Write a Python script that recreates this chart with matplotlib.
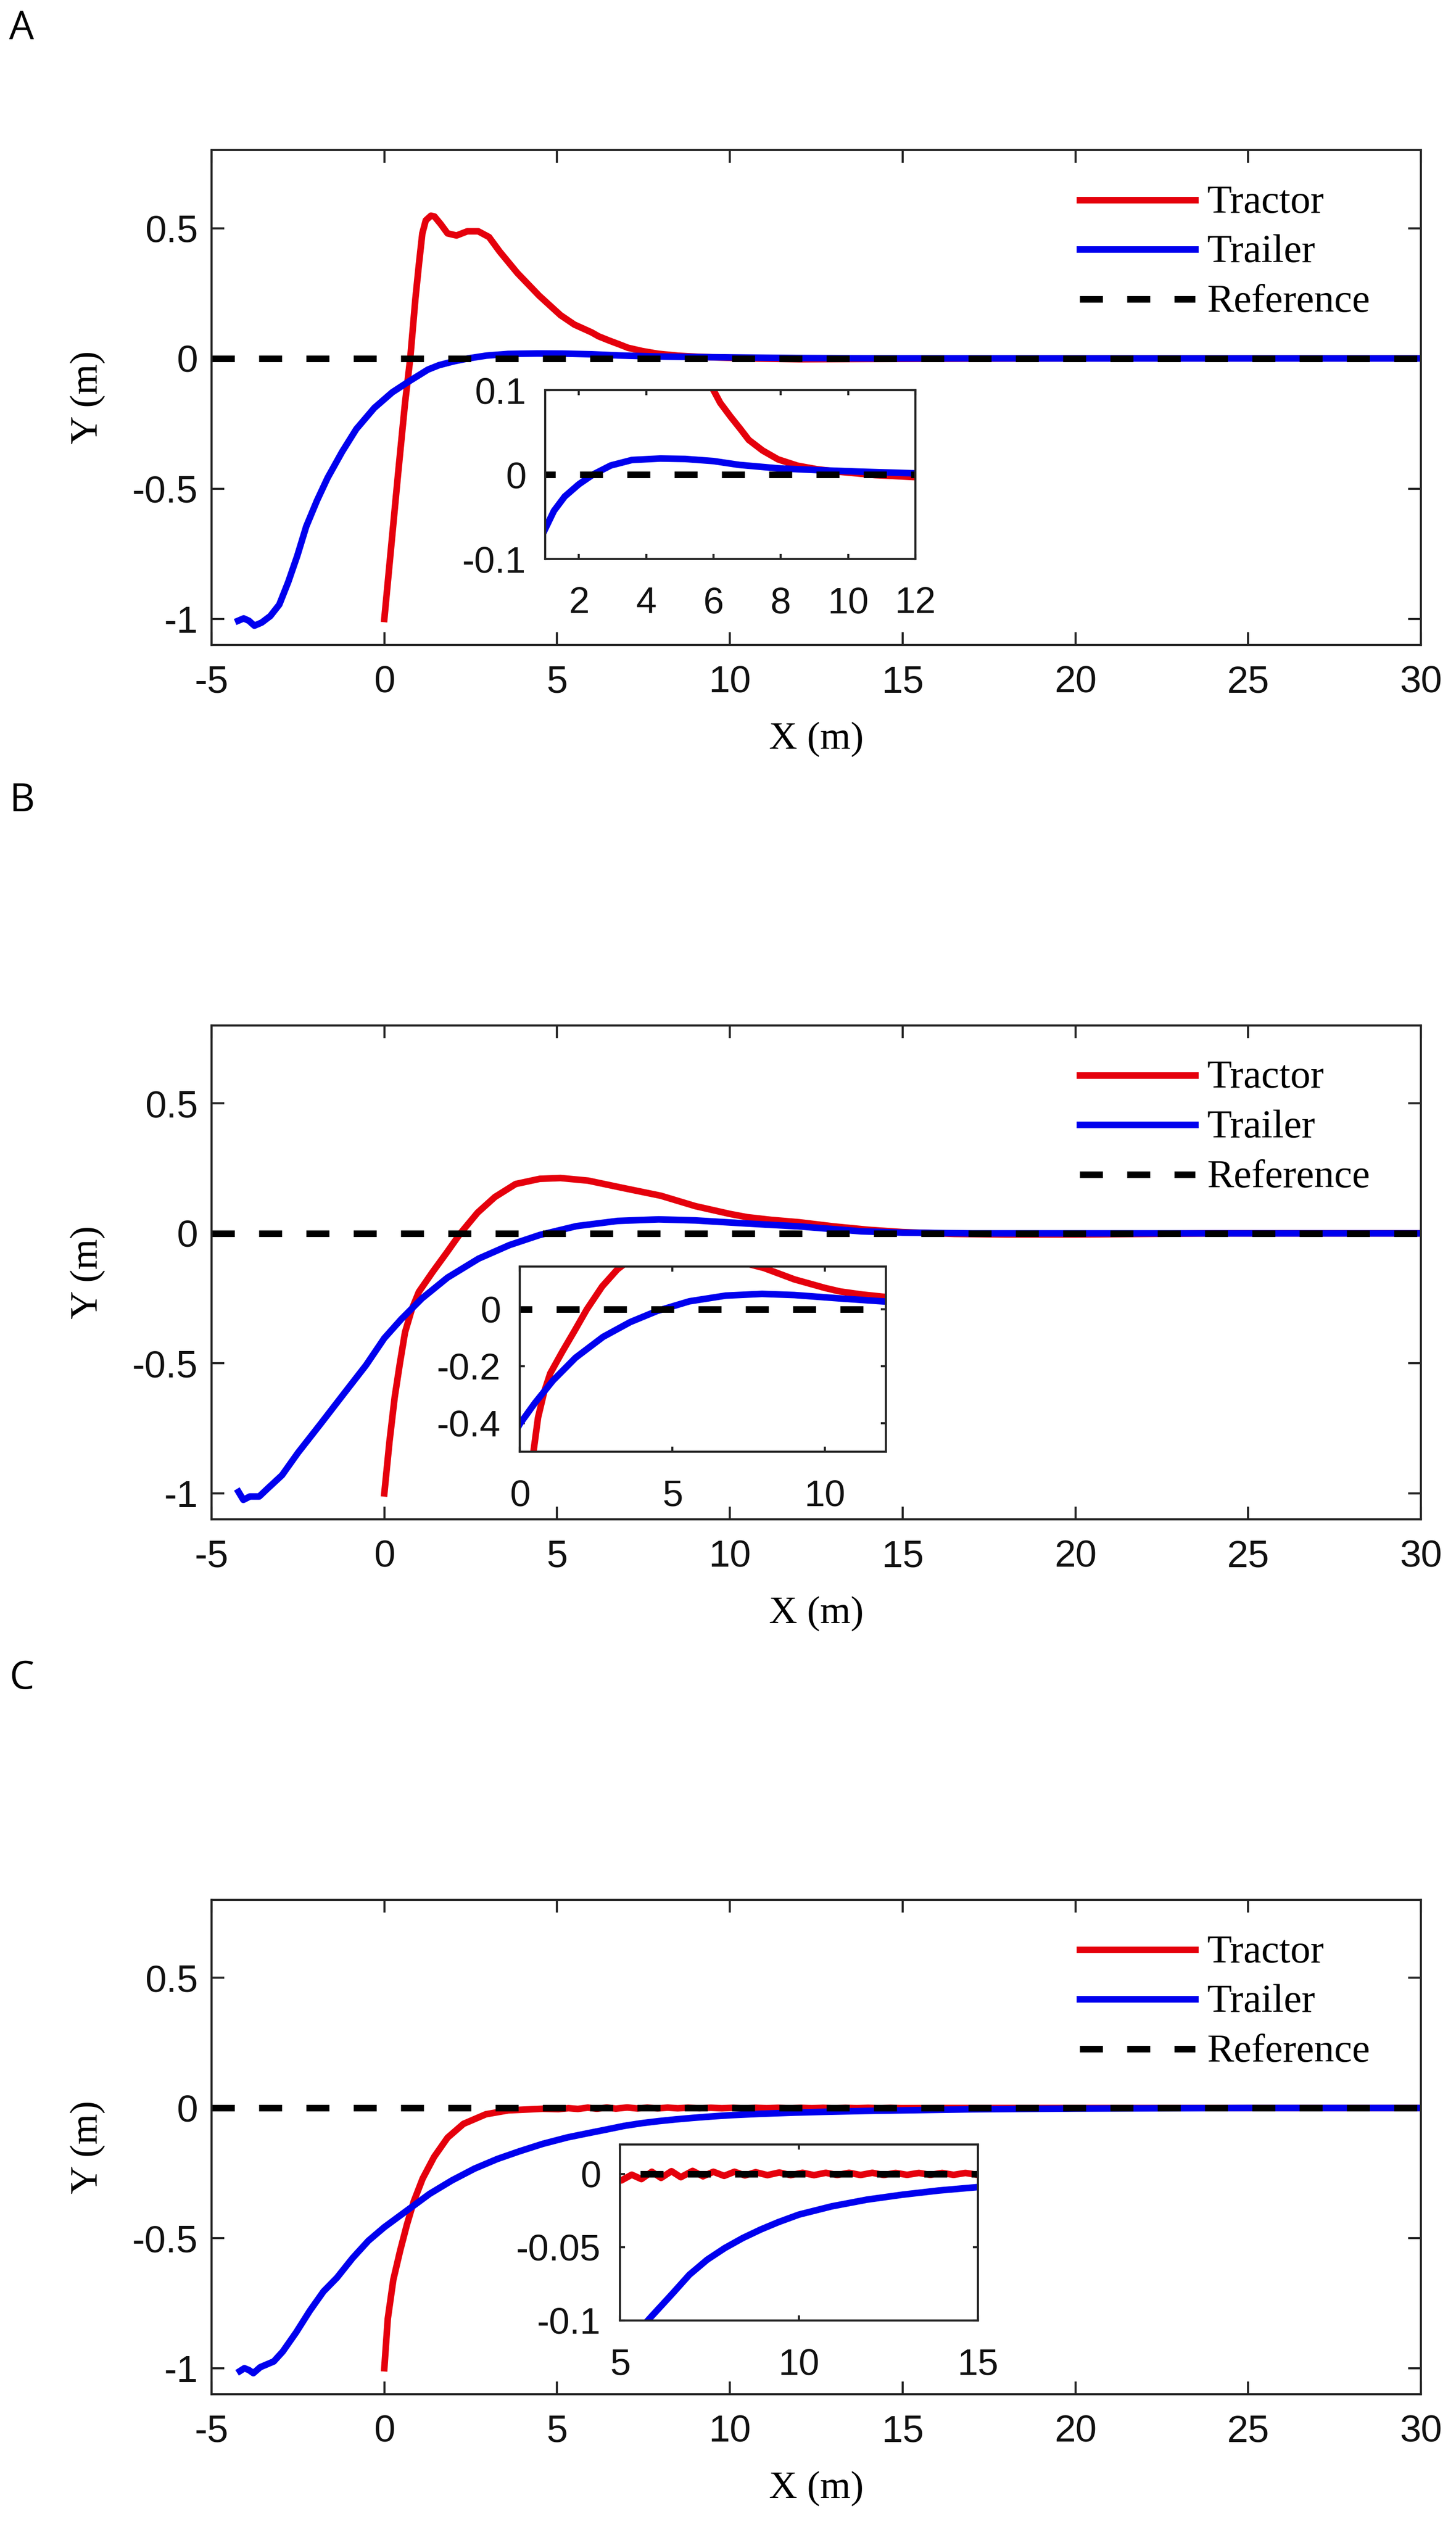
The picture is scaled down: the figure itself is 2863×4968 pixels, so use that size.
import matplotlib
matplotlib.use('Agg')
import matplotlib.pyplot as plt
from matplotlib.ticker import FormatStrFormatter

W, H = 2863, 4968
DPI = 300

plt.rcParams['axes.unicode_minus'] = False
plt.rcParams['font.family'] = ['Liberation Sans', 'DejaVu Sans']

# ---- panel A ----
tractor_a_x = [0, 0.2, 0.4, 0.6, 0.75, 0.9, 1.0, 1.1, 1.2, 1.35, 1.45, 1.63, 1.83, 2.09, 2.4,
               2.72, 3.03, 3.34, 3.85, 4.48, 5.1, 5.5, 6.0, 6.2, 6.5, 6.8, 7.05, 7.46, 7.92,
               8.5, 9.08, 9.66, 10.24, 10.8, 12.0, 14.0, 20.0, 30.0]
tractor_a_y = [-1.0, -0.72, -0.44, -0.17, 0.0, 0.23, 0.36, 0.48, 0.53, 0.548, 0.545, 0.516,
               0.48, 0.472, 0.488, 0.488, 0.466, 0.41, 0.328, 0.241, 0.166, 0.13, 0.1, 0.085,
               0.069, 0.054, 0.041, 0.0285, 0.018, 0.0105, 0.0063, 0.0036, 0.0015, -0.0006,
               -0.003, -0.002, 0.0, 0.0]
trailer_a_x = [-4.23, -4.07, -3.92, -3.76, -3.55, -3.30, -3.04, -2.78, -2.52, -2.26, -1.95,
               -1.64, -1.22, -0.81, -0.29, 0.23, 0.75, 1.03, 1.26, 1.58, 2.0, 2.42, 2.95, 3.58,
               4.42, 5.16, 6.0, 6.76, 7.92, 9.08, 10.24, 12.0, 14.0, 20.0, 30.0]
trailer_a_y = [-1.007, -0.998, -1.007, -1.026, -1.014, -0.989, -0.945, -0.858, -0.758, -0.645,
               -0.546, -0.458, -0.358, -0.271, -0.19, -0.13, -0.085, -0.062, -0.043, -0.026,
               -0.0115, 0.0, 0.0108, 0.0173, 0.019, 0.0185, 0.016, 0.0115, 0.0074, 0.0053,
               0.0036, 0.0015, 0.0005, 0.0, 0.0]

# ---- panel B ----
tractor_b_x = [0, 0.15, 0.3, 0.45, 0.6, 0.8, 1.0, 1.4, 1.8, 2.2, 2.7, 3.2, 3.8, 4.5, 5.1, 5.9,
               6.9, 8.0, 9.0, 10.0, 10.5, 11.2, 12.0, 13.0, 14.0, 15.0, 16.5, 18.0, 20.0, 22.0,
               24.0, 30.0]
tractor_b_y = [-1.0, -0.8, -0.63, -0.5, -0.38, -0.29, -0.225, -0.148, -0.075, 0.0, 0.08, 0.14,
               0.19, 0.21, 0.213, 0.203, 0.175, 0.145, 0.105, 0.075, 0.0625, 0.052, 0.043,
               0.027, 0.014, 0.005, -0.002, -0.004, -0.004, -0.002, 0.0, 0.0]
trailer_b_x = [-4.22, -4.08, -3.89, -3.62, -3.43, -2.96, -2.5, -1.84, -1.19, -0.53, 0.0, 0.49,
               1.09, 1.83, 2.73, 3.62, 4.5, 5.56, 6.75, 7.94, 9.0, 10.5, 12.0, 13.8, 15.0, 17.0,
               20.0, 30.0]
trailer_b_y = [-0.994, -1.025, -1.012, -1.012, -0.988, -0.93, -0.844, -0.732, -0.62, -0.507,
               -0.403, -0.33, -0.25, -0.17, -0.097, -0.045, -0.006, 0.028, 0.048, 0.054, 0.05,
               0.038, 0.027, 0.008, 0.003, 0.0, 0.0, 0.0]

# ---- panel C ----
tractor_c_x = [0, 0.1, 0.26, 0.46, 0.65, 0.85, 1.11, 1.44, 1.83, 2.29, 2.94, 3.59, 4.58, 5.04,
               5.33, 5.6, 5.89, 6.15, 6.44, 6.7, 7.03, 7.32, 7.61, 7.91, 8.2, 8.49, 8.79, 9.12,
               9.45, 9.77, 10.1, 10.42, 10.75, 11.07, 11.4, 11.72, 12.05, 12.37, 12.7, 13.02,
               13.35, 13.67, 14.0, 14.32, 14.65, 14.97, 16.0, 30.0]
tractor_c_y = [-1.0, -0.81, -0.66, -0.547, -0.45, -0.36, -0.271, -0.188, -0.114, -0.061,
               -0.024, -0.009, -0.003, -0.0045, -0.0006, -0.0036, 0.0014, -0.0028, 0.0018,
               -0.0023, 0.002, -0.0017, 0.0014, -0.0014, 0.0014, -0.0011, 0.0011, -0.0009,
               0.0009, -0.0009, 0.0007, -0.0009, 0.0007, -0.0008, 0.0007, -0.0008, 0.0007,
               -0.0008, 0.0006, -0.0007, 0.0006, -0.0007, 0.0006, -0.0007, 0.0006, -0.0006,
               0.0, 0.0]
trailer_c_x = [-4.18, -4.05, -3.92, -3.79, -3.59, -3.2, -2.94, -2.55, -2.16, -1.76, -1.37,
               -0.92, -0.46, 0.0, 0.46, 0.85, 1.31, 1.96, 2.61, 3.27, 3.92, 4.58, 5.3, 5.89,
               6.44, 6.94, 7.44, 7.93, 8.43, 8.93, 9.42, 10.0, 10.91, 11.9, 12.9, 13.9, 14.97,
               17.0, 20.0, 25.0, 30.0]
trailer_c_y = [-1.011, -1.0, -1.007, -1.019, -0.996, -0.974, -0.936, -0.862, -0.78, -0.705,
               -0.652, -0.577, -0.51, -0.458, -0.413, -0.375, -0.33, -0.278, -0.233, -0.196,
               -0.166, -0.138, -0.113, -0.097, -0.0824, -0.0688, -0.0585, -0.0506, -0.0438,
               -0.038, -0.033, -0.0278, -0.0222, -0.0176, -0.0142, -0.0114, -0.0091, -0.005,
               -0.002, 0.0, 0.0]

ref_x = [-5, 30]
ref_y = [0, 0]

panel_labels = ['A', 'B', 'C']
main_xticks = [-5, 0, 5, 10, 15, 20, 25, 30]
main_yticks = [-1, -0.5, 0, 0.5]
inset_xlims = [(1, 12), (0, 12), (5, 15)]
inset_ylims = [(-0.1, 0.1), (-0.5, 0.15), (-0.1, 0.02)]
inset_xticks = [[2, 4, 6, 8, 10, 12], [0, 5, 10], [5, 10, 15]]
inset_yticks = [[-0.1, 0, 0.1], [-0.4, -0.2, 0], [-0.1, -0.05, 0]]

RED = '#e5000c'
BLUE = '#0000ee'
FRAME = '#262626'
LW = 3.1
DASH = (3.5, 3.7)


def px_box(l, t, r, b):
    return [l / W, 1 - b / H, (r - l) / W, (b - t) / H]


def style_axes(ax, tick_len, size, xpad, ypad):
    for s in ax.spines.values():
        s.set_color(FRAME)
        s.set_linewidth(1.0)
    ax.tick_params(direction='in', length=tick_len, width=1.0, color=FRAME,
                   top=True, right=True, labelsize=size, labelcolor='#111111')
    ax.tick_params(axis='x', pad=xpad)
    ax.tick_params(axis='y', pad=ypad)
    ax.xaxis.set_major_formatter(FormatStrFormatter('%g'))
    ax.yaxis.set_major_formatter(FormatStrFormatter('%g'))


def draw_curves(ax, tx, ty, rx, ry):
    ax.plot(tx, ty, color=RED, lw=LW, label='Tractor')
    ax.plot(rx, ry, color=BLUE, lw=LW, label='Trailer')
    ax.plot(ref_x, ref_y, color='black', lw=LW, dashes=DASH, label='Reference')


fig = plt.figure(figsize=(W / DPI, H / DPI), dpi=DPI)
fig.patch.set_facecolor('white')

series = [(tractor_a_x, tractor_a_y, trailer_a_x, trailer_a_y),
          (tractor_b_x, tractor_b_y, trailer_b_x, trailer_b_y),
          (tractor_c_x, tractor_c_y, trailer_c_x, trailer_c_y)]
main_boxes = [(416, 295, 2794, 1268), (416, 2016, 2794, 2987), (416, 3735, 2794, 4707)]
inset_boxes = [(1072, 767, 1800, 1099), (1022, 2490, 1742, 2854), (1219, 4216, 1923, 4562)]
label_y = [57, 1575, 3300]

for i in range(3):
    tx, ty, rx, ry = series[i]

    ax = fig.add_axes(px_box(*main_boxes[i]))
    draw_curves(ax, tx, ty, rx, ry)
    ax.set_xlim(-5, 30)
    ax.set_ylim(-1.1, 0.8)
    ax.set_xticks(main_xticks)
    ax.set_yticks(main_yticks)
    style_axes(ax, 6, 18, 9.5, 6.5)
    ax.set_xlabel('X (m)', family='Liberation Serif', fontsize=18.5)
    ax.set_ylabel('Y (m)', family='Liberation Serif', fontsize=18.5)
    ax.xaxis.set_label_coords(0.5, -0.155)
    ax.yaxis.set_label_coords(-0.088, 0.5)
    ax.legend(loc='upper left', bbox_to_anchor=(0.718, 0.93), frameon=False,
              prop={'family': 'Liberation Serif', 'size': 19}, handlelength=2.86,
              handleheight=0.45, handletextpad=0.3, labelspacing=0.33,
              borderpad=0, borderaxespad=0)

    ins = fig.add_axes(px_box(*inset_boxes[i]))
    ins.set_facecolor('white')
    draw_curves(ins, tx, ty, rx, ry)
    ins.set_xlim(*inset_xlims[i])
    ins.set_ylim(*inset_ylims[i])
    ins.set_xticks(inset_xticks[i])
    ins.set_yticks(inset_yticks[i])
    style_axes(ins, 2.4, 17.5, 13, 9)

    fig.text(18 / W, 1 - label_y[i] / H, panel_labels[i], ha='left', va='center',
             fontsize=18.5, family='Open Sans')

fig.savefig('out.png', dpi=DPI, facecolor='white')
